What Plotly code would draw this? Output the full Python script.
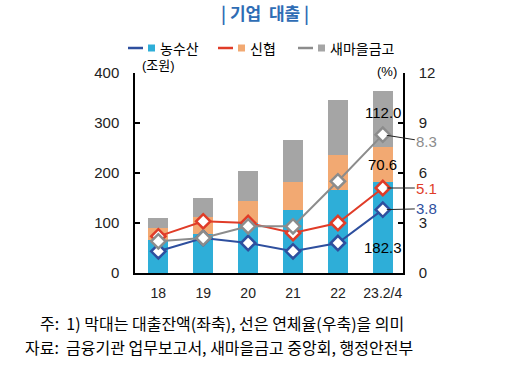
import plotly.graph_objects as go

categories = ["18", "19", "20", "21", "22", "23.2/4"]
bar_nong = [67, 79, 101, 126, 167, 182.3]
bar_sin = [24, 34, 43, 57, 69, 70.6]
bar_sae = [20, 38, 60, 84, 111, 112.0]
rate_nong = [1.3, 2.1, 1.8, 1.3, 1.8, 3.8]
rate_sin = [2.2, 3.1, 3.0, 2.4, 3.0, 5.1]
rate_sae = [1.9, 2.1, 2.8, 2.8, 5.5, 8.3]
series_names = ["농수산", "신협", "새마을금고"]

bar_colors = ["#2eaed8", "#f2a972", "#a5a5a5"]
line_colors = ["#2e4f9e", "#e03c28", "#8c8c8c"]

OFF = 0  # body margin removed by post_script
W, H = 512, 388
L, R, T, B = 135, 109, 73, 115
PW, PH = W - L - R, H - T - B


def X(px):
    return (px - OFF - L) / PW


def Y(py):
    return (H - B - (py - OFF)) / PH


FONT = "Liberation Sans, Arial, Noto Sans CJK KR"
KFONT = "Noto Sans CJK KR"
fig = go.Figure()

for vals, col, nm in zip([bar_nong, bar_sin, bar_sae], bar_colors, series_names):
    fig.add_trace(go.Bar(x=categories, y=vals, marker=dict(color=col, line=dict(width=0)),
                         width=0.45, name=nm, showlegend=False, yaxis="y"))

for vals, col, nm in zip([rate_nong, rate_sin, rate_sae], line_colors, series_names):
    fig.add_trace(go.Scatter(x=categories, y=vals, mode="lines+markers", yaxis="y2",
                             line=dict(color=col, width=2),
                             marker=dict(symbol="diamond", size=11, color="white",
                                         line=dict(color=col, width=2.5)),
                             name=nm, showlegend=False))

ann = []
last = len(categories) - 1
tot_lo = bar_nong[last] + bar_sin[last]
ann.append(dict(x=categories[last], y=tot_lo + bar_sae[last] * 0.6, text=f"{bar_sae[last]:.1f}",
                showarrow=False, font=dict(size=15, color="black", family=FONT)))
ann.append(dict(x=categories[last], y=bar_nong[last] + bar_sin[last] * 0.5, text=f"{bar_sin[last]:.1f}",
                showarrow=False, font=dict(size=15, color="black", family=FONT)))
ann.append(dict(x=categories[last], y=bar_nong[last] * 0.28, text=f"{bar_nong[last]:.1f}",
                showarrow=False, font=dict(size=15, color="black", family=FONT)))

for vals, col, ay in zip([rate_nong, rate_sin, rate_sae], line_colors, [-1, 0, 7]):
    ann.append(dict(x=categories[last], y=vals[last], yref="y2", text=f"{vals[last]:.1f}",
                    showarrow=True, arrowhead=0, arrowwidth=1, arrowcolor="#222222",
                    ax=44, ay=ay, standoff=4,
                    font=dict(size=15, color=col, family=FONT)))


def pann(px, py, text, size, color="black", family=KFONT, xanchor="left"):
    ann.append(dict(xref="paper", yref="paper", x=X(px), y=Y(py), xanchor=xanchor, yanchor="middle",
                    text=text, showarrow=False, font=dict(size=size, color=color, family=family)))


pann(265, 13, "<b>| 기업  대출 |</b>", 17, color="#2f6db5", xanchor="center")
pann(140, 65, "(조원)", 13, family=FONT)
pann(399, 71, "(%)", 13, family=FONT, xanchor="right")

shapes = []
leg_x = [128, 218, 298]
for lx, lc, bc, nm in zip(leg_x, line_colors, bar_colors, series_names):
    shapes.append(dict(type="line", xref="paper", yref="paper", x0=X(lx), x1=X(lx + 15),
                       y0=Y(48), y1=Y(48), line=dict(color=lc, width=2.5)))
    shapes.append(dict(type="rect", xref="paper", yref="paper", x0=X(lx + 20), x1=X(lx + 27),
                       y0=Y(51.5), y1=Y(44.5), fillcolor=bc, line=dict(width=0)))
    pann(lx + 30, 48, nm, 14)

pann(38, 323, "주:  1) 막대는 대출잔액(좌축), 선은 연체율(우축)을 의미", 16)
pann(23, 347, "자료:  금융기관 업무보고서, 새마을금고 중앙회, 행정안전부", 16)

fig.update_layout(
    width=W, height=H, margin=dict(l=L, r=R, t=T, b=B),
    paper_bgcolor="white", plot_bgcolor="white", barmode="stack",
    showlegend=False, annotations=ann, shapes=shapes,
    font=dict(family=FONT, color="black"),
    xaxis=dict(type="category", range=[-0.52, 5.45], showline=True, linecolor="black", linewidth=1.5,
               ticks="", showgrid=False, tickfont=dict(size=14, color="#222222"),
               ticklabelstandoff=6),
    yaxis=dict(range=[0, 400], dtick=100, showline=True, linecolor="black", linewidth=1.5,
               ticks="inside", ticklen=5, tickcolor="black", tickwidth=1.5, showgrid=False,
               zeroline=False, tickfont=dict(size=15, color="#222222"), ticklabelstandoff=11),
    yaxis2=dict(range=[0, 12], dtick=3, overlaying="y", side="right", showline=True,
                linecolor="black", linewidth=1.5, ticks="inside", ticklen=5, tickcolor="black",
                tickwidth=1.5, showgrid=False, zeroline=False,
                tickfont=dict(size=15, color="#222222"), ticklabelstandoff=11),
)

fig.write_html("out.html", config={"displayModeBar": False},
               post_script="document.body.style.margin='0';")
